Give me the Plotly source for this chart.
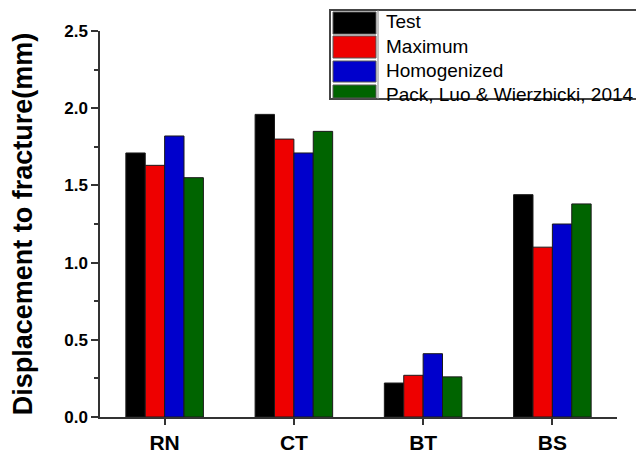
import plotly.graph_objects as go

categories = ["RN", "CT", "BT", "BS"]
series_names = ["Test", "Maximum", "Homogenized", "Pack, Luo & Wierzbicki, 2014"]
test_vals = [1.71, 1.96, 0.22, 1.44]
maximum_vals = [1.63, 1.80, 0.27, 1.10]
homogenized_vals = [1.82, 1.71, 0.41, 1.25]
pack_vals = [1.55, 1.85, 0.26, 1.38]
y_ticks = [0.0, 0.5, 1.0, 1.5, 2.0, 2.5]

colors = ["#000000", "#EE0000", "#0000CC", "#006400"]
all_vals = [test_vals, maximum_vals, homogenized_vals, pack_vals]

# page body has an 8px default margin; compensate so the viewport matches
OFF = 8
W, H = 644 - OFF, 455 - OFF
L, R, T, B = 100 - OFF, 27, 31 - OFF, 38
pw, ph = W - L - R, H - T - B

def px_x(p):  # viewport pixel -> paper
    return (p - OFF - L) / pw

def px_y(p):
    return (H - B - (p - OFF)) / ph

FONT = "Liberation Sans, Arial, sans-serif"

fig = go.Figure()
for name, vals, col in zip(series_names, all_vals, colors):
    fig.add_trace(go.Bar(
        x=categories, y=vals, name=name,
        marker=dict(color=col, line=dict(color="#1a1a1a", width=1)),
        showlegend=False,
    ))

# manual legend (large swatches like the original)
shapes = []
annotations = []
box_l, box_t, box_b = 330, 10, 99
shapes.append(dict(type="rect", xref="paper", yref="paper",
                   x0=px_x(box_l), x1=px_x(660), y0=px_y(box_b), y1=px_y(box_t),
                   line=dict(color="#444444", width=2), fillcolor="white", layer="above"))
shapes.append(dict(type="line", xref="paper", yref="paper",
                   x0=px_x(378), x1=px_x(378), y0=px_y(box_b), y1=px_y(box_t),
                   line=dict(color="#888888", width=1), layer="above"))
row_tops = [12, 36, 61, 85]
row_bots = [34, 58, 82, 98]
text_y = [22, 46, 70, 94]
for i, (name, col) in enumerate(zip(series_names, colors)):
    shapes.append(dict(type="rect", xref="paper", yref="paper",
                       x0=px_x(333), x1=px_x(376), y0=px_y(row_bots[i]), y1=px_y(row_tops[i]),
                       line=dict(color="#555555", width=1), fillcolor=col, layer="above"))
    annotations.append(dict(xref="paper", yref="paper", x=px_x(384), y=px_y(text_y[i]),
                            text=name, showarrow=False, xanchor="left", yanchor="middle",
                            font=dict(family=FONT, size=19, color="black")))

fig.update_layout(
    width=W, height=H,
    margin=dict(l=L, r=R, t=T, b=B, autoexpand=False),
    paper_bgcolor="white", plot_bgcolor="white",
    barmode="group", bargap=0.40, bargroupgap=0,
    showlegend=False,
    shapes=shapes, annotations=annotations,
    font=dict(family=FONT, color="black"),
    xaxis=dict(
        type="category", range=[-0.5, 3.5],
        showline=True, linecolor="#333333", linewidth=1.5,
        ticks="outside", ticklen=6, tickcolor="#333333", tickwidth=1.5,
        showgrid=False, zeroline=False,
        tickfont=dict(family=FONT, size=21, weight="bold", color="black"),
    ),
    xaxis2=dict(
        overlaying="x", anchor="y", side="bottom", range=[-0.5, 3.5],
        tickvals=[0.5, 1.5, 2.5, 3.5], ticks="outside", ticklen=4,
        tickcolor="#333333", tickwidth=1.5,
        showticklabels=False, showline=False, showgrid=False, zeroline=False,
    ),
    yaxis=dict(
        range=[0, 2.5], tickvals=y_ticks, tickformat=".1f",
        showline=True, linecolor="#333333", linewidth=1.5,
        ticks="outside", ticklen=7, tickcolor="#333333", tickwidth=1.5,
        minor=dict(dtick=0.25, ticklen=4, ticks="outside", tickcolor="#333333", tickwidth=1.5),
        showgrid=False, zeroline=False,
        tickfont=dict(family=FONT, size=17, weight="bold", color="black"),
        title=dict(text="Displacement to fracture(mm)", standoff=24,
                   font=dict(family=FONT, size=27, weight="bold", color="black")),
    ),
)

fig.write_html("out.html")
